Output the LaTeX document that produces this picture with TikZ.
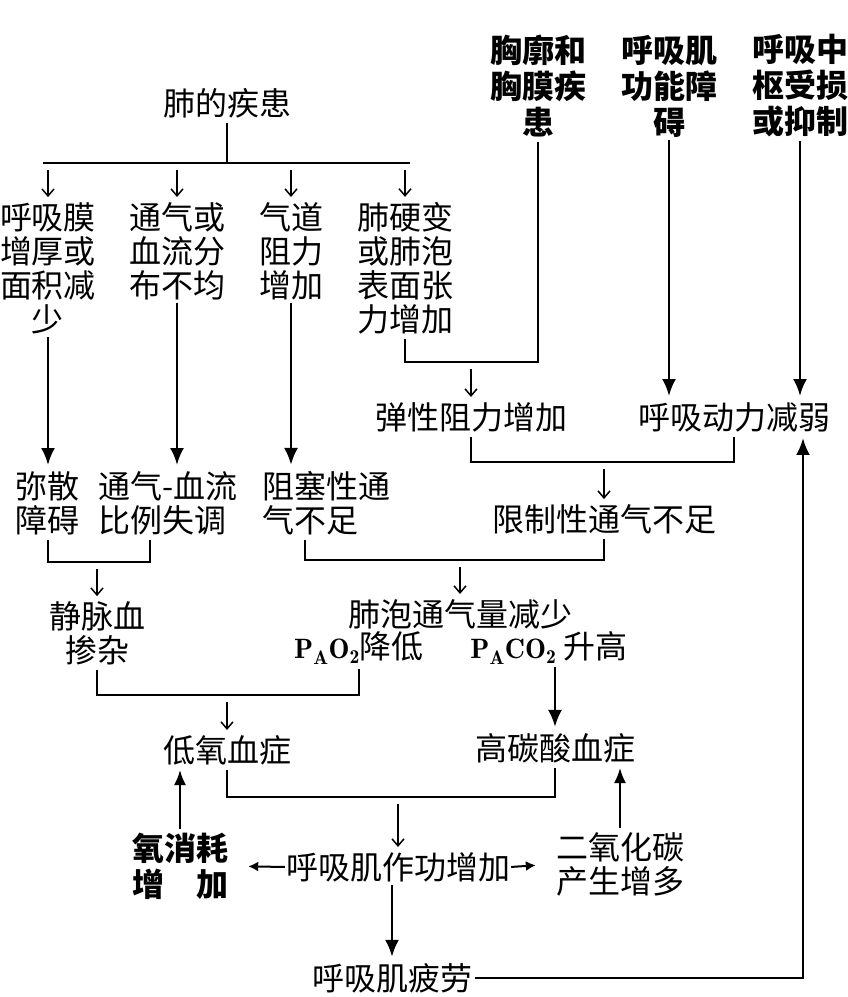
\documentclass[tikz,border=0pt]{standalone}
\usepackage{fontspec}
\newfontfamily\cjk{Noto Sans CJK SC}
\usetikzlibrary{arrows.meta}
\begin{document}
\begin{tikzpicture}[x=1pt,y=-1pt,
  txt/.style={font=\cjk\fontsize{32}{34}\selectfont, inner sep=0pt, align=center},
  btxt/.style={font=\cjk\bfseries\fontsize{32}{36}\selectfont, inner sep=0pt, align=center},
  ln/.style={line width=2.4pt, shorten <=5pt, shorten >=5pt},
  sarr/.style={line width=1.5pt, -{Straight Barb[length=7pt,width=12pt]}, shorten <=7pt, shorten >=5pt},
  larr/.style={line width=2.7pt, -{Latex[length=17pt,width=14pt]}, shorten <=3pt, shorten >=6pt},
  marr/.style={line width=2pt, -{Latex[length=15pt,width=12pt]}, shorten <=4pt, shorten >=5pt},
  harr/.style={line width=2pt, -{Latex[length=10pt,width=10pt]}, shorten <=1pt, shorten >=20pt}]
\useasboundingbox[fill=white] (0,0) rectangle (847,997);

% nodes
\node[txt] (fei) at (227,103) {肺的疾患};
\node[txt] (a1) at (48,268) {呼吸膜\\增厚或\\面积减\\少};
\node[txt] (a2) at (177,251) {通气或\\血流分\\布不均};
\node[txt] (a3) at (291,251) {气道\\阻力\\增加};
\node[txt] (a4) at (405,268) {肺硬变\\或肺泡\\表面张\\力增加};
\node[btxt] (b1) at (538,86) {胸廓和\\胸膜疾\\患};
\node[btxt] (b2) at (669,86) {呼吸肌\\功能障\\碍};
\node[btxt] (b3) at (800,86) {呼吸中\\枢受损\\或抑制};
\node[txt] (c1) at (471,417) {弹性阻力增加};
\node[txt] (c2) at (734,417) {呼吸动力减弱};
\node[txt] (d1) at (48,503) {弥散\\障碍};
\node[txt, anchor=west, align=left] (d2) at (98,503) {通气-血流\\比例失调};
\node[txt, anchor=west, align=left] (d3) at (262,503) {阻塞性通\\气不足};
\node[txt] (d4) at (604,519) {限制性通气不足};
\node[txt] (e1) at (97,633) {静脉血\\掺杂};
\node[txt] (e2) at (460,614) {肺泡通气量减少};
\node[txt] (e3) at (359,648) {{\fontsize{28}{30}\selectfont$\mathbf{P_AO_2}$}降低};
\node[txt] (e4) at (549,648) {{\fontsize{28}{30}\selectfont$\mathbf{P_ACO_2}$} 升高};
\node[txt] (f1) at (227,750) {低氧血症};
\node[txt] (f2) at (555,748) {高碳酸血症};
\node[btxt] (g1) at (180,866) {氧消耗\\增\hspace{1em}加};
\node[txt] (g2) at (398,867) {呼吸肌作功增加};
\node[txt] (g3) at (620,864) {二氧化碳\\产生增多};
\node[txt] (h) at (392,978) {呼吸肌疲劳};

% junction coordinates
\coordinate (j0) at (0,163);
\coordinate (jL) at (43,163);
\coordinate (jR) at (410,163);
\coordinate (j1) at (0,362);
\coordinate (j2) at (0,462);
\coordinate (j3) at (150,562);
\coordinate (j4) at (305,560);
\coordinate (j5) at (0,695);
\coordinate (j6) at (0,797);
\coordinate (j7) at (803,0);

% lung disease branches
\draw[ln, shorten >=0pt] (fei.south) -- (fei.south |- j0);
\draw[line width=2.4pt] (jL) -- (jR);
\foreach \n in {a1,a2,a3,a4} \draw[sarr] (\n.north |- j0) -- (\n.north);

\draw[larr] (a1.south) -- (a1.south |- d1.north);
\draw[larr] (a2.south) -- (a2.south |- d2.north);
\draw[larr] (a3.south) -- (a3.south |- d3.north);

\draw[ln] (a4.south) -- (a4.south |- j1) -- (b1.south |- j1) -- (b1.south);
\draw[sarr] (c1.north |- j1) -- (c1.north);
\draw[larr] (b2.south) -- (b2.south |- c2.north);
\draw[larr] (b3.south) -- (b3.south |- c2.north);

\draw[ln] (c1.south) -- (c1.south |- j2) -- (c2.south |- j2) -- (c2.south);
\draw[sarr] (d4.north |- j2) -- (d4.north);

\draw[ln] (d1.south) -- (d1.south |- j3) -- (j3) -- (j3 |- d2.south);
\draw[sarr] (e1.north |- j3) -- (e1.north);

\draw[ln] (j4 |- d3.south) -- (j4) -- (d4.south |- j4) -- (d4.south);
\draw[sarr] (e2.north |- j4) -- (e2.north);

\draw[ln] (e1.south) -- (e1.south |- j5) -- (e3.south |- j5) -- (e3.south);
\draw[sarr] (f1.north |- j5) -- (f1.north);
\draw[larr] (f2.north |- e4.south) -- (f2.north);

\draw[ln] (f1.south) -- (f1.south |- j6) -- (f2.south |- j6) -- (f2.south);
\draw[sarr] (g2.north |- j6) -- (g2.north);
\draw[marr] (g1.north) -- (g1.north |- f1.south);
\draw[marr] (g3.north) -- (g3.north |- f2.south);
\draw[harr] (g2.west) -- (g1.east);
\draw[harr] (g2.east) -- (g3.west);
\draw[larr] (g2.south -| h.north) -- (h.north);
\draw[larr] (h.east) -- (h.east -| j7) -- (j7 |- c2.south);
\end{tikzpicture}
\end{document}
